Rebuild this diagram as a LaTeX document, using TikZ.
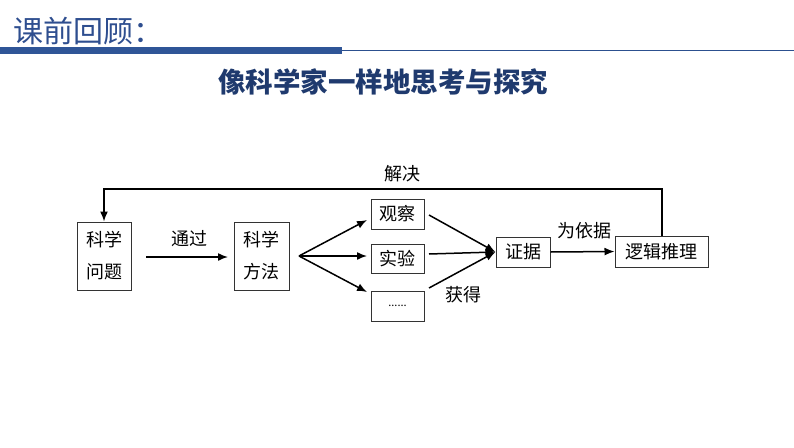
\documentclass[tikz,border=0pt]{standalone}
\usepackage{fontspec}
\newfontfamily\cjk{Noto Sans CJK SC}
\usetikzlibrary{arrows.meta}
\definecolor{titleblue}{HTML}{2E4E8F}
\definecolor{barblue}{HTML}{2F5597}
\definecolor{navy}{HTML}{1F3A6E}
\begin{document}
\begin{tikzpicture}[x=1pt,y=-1pt,
  box/.style={draw=black!80,line width=1pt,inner sep=0pt,font=\cjk\fontsize{18}{32}\selectfont,align=center},
  conn/.style={line width=1.5pt,-{Latex[length=10pt,width=8pt]}},
  lbl/.style={font=\cjk\fontsize{18}{20}\selectfont,inner sep=0pt}]
\useasboundingbox (0,0) rectangle (794,447);
% header
\node[anchor=west,inner sep=0pt,text=titleblue,font=\cjk\fontsize{30}{32}\selectfont] (title) at (13,31) {课前回顾：};
\fill[barblue] (0,47) rectangle (342,54);
\draw[barblue!80!navy,line width=1.2pt] (342,50.5) -- (794,50.5);
\node[inner sep=0pt,text=navy,font=\cjk\bfseries\fontsize{27.5}{29}\selectfont] (sub) at (383,82) {像科学家一样地思考与探究};
% boxes
\node[box,minimum width=54pt,minimum height=68pt] (q) at (104,256) {科学\\问题};
\node[box,minimum width=55pt,minimum height=68pt] (m) at (261.5,256) {科学\\方法};
\node[box,minimum width=53pt,minimum height=30pt] (o) at (397.5,214) {观察};
\node[box,minimum width=53pt,minimum height=29pt] (e) at (397.5,258.5) {实验};
\node[box,minimum width=53pt,minimum height=30pt,font=\cjk\fontsize{11}{12}\selectfont] (d) at (397.5,306) {......};
\node[box,minimum width=54pt,minimum height=30pt] (ev) at (523,252) {证据};
\node[box,minimum width=93pt,minimum height=31pt] (lr) at (661.5,251.5) {逻辑推理};
% connectors
\coordinate (a1) at (146,257);
\draw[conn] (a1) -- (228,257);
\node[lbl] (l1) at (189,239) {通过};
\coordinate (fan) at (299,256);
\draw[conn] (fan) -- (367,220);
\draw[conn] (fan) -- (367,256);
\draw[conn] (fan) -- (367,292);
\coordinate (c1) at (429,215);
\coordinate (c2) at (429,254);
\coordinate (c3) at (429,288);
\draw[conn] (c1) -- (ev.west);
\draw[conn] (c2) -- (ev.west);
\draw[conn] (c3) -- (ev.west);
\node[lbl] (l2) at (463,295) {获得};
\draw[conn] (ev.east) -- (lr.west);
\node[lbl] (l3) at (584,231) {为依据};
\coordinate (t1) at (662,189);
\coordinate (t2) at (104,189);
\draw[conn] (lr.north -| t1) -- (t1) -- (t2) -- (q.north);
\node[lbl] (l4) at (402,174) {解决};
\end{tikzpicture}
\end{document}
